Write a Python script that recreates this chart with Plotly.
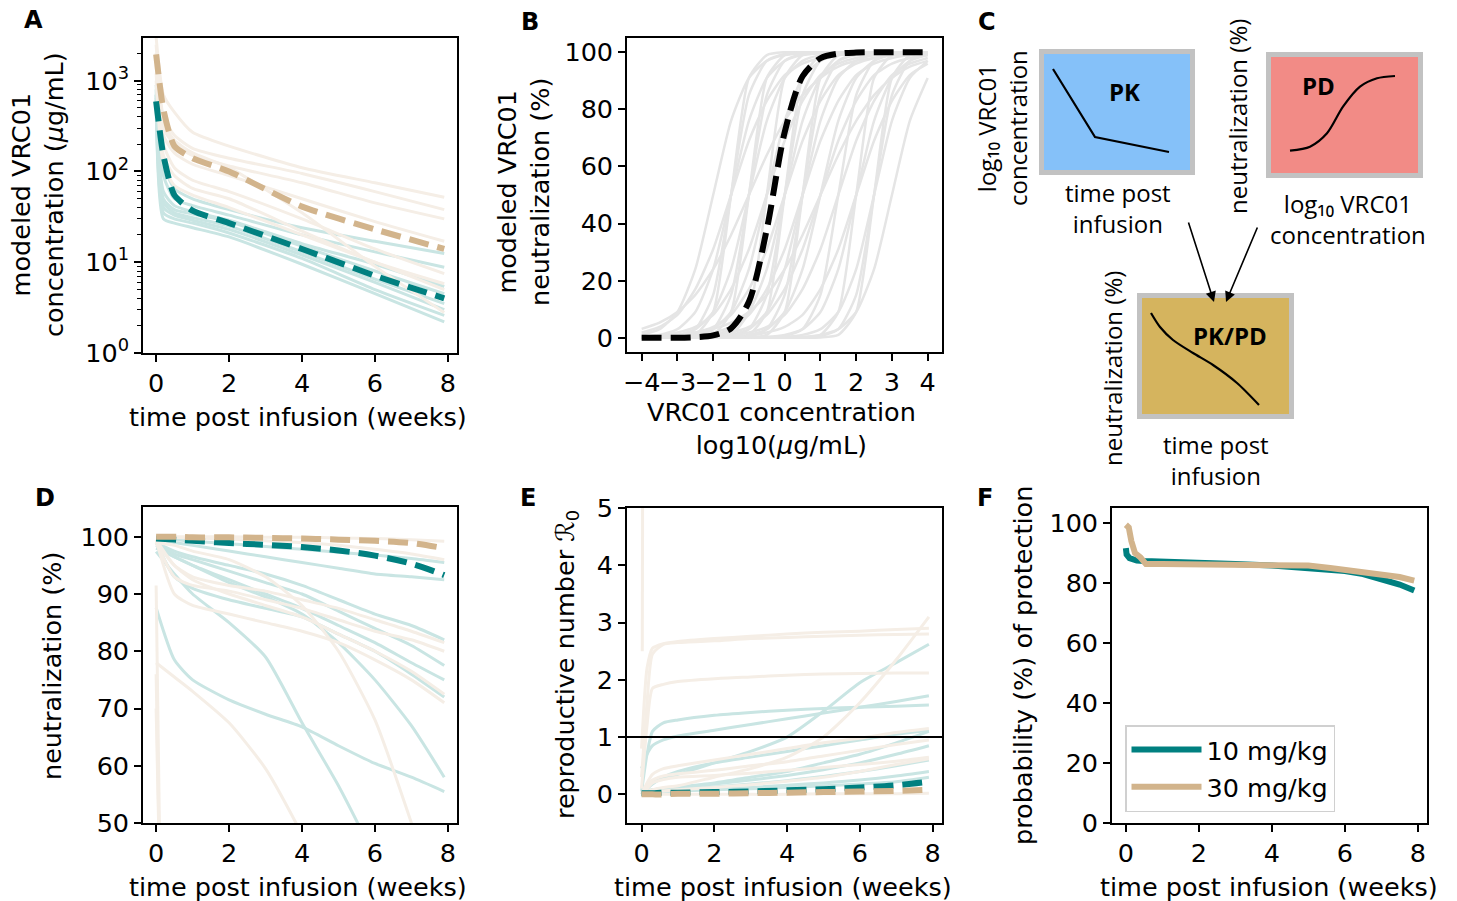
import plotly.graph_objects as go

W, H = 1457, 901


def px(x, y):
    return x / W, 1 - y / H


FONT = "DejaVu Sans"
CFONT = "Open Sans"
FS = 25.5
TEAL = "#008080"
TAN = "#D2B48C"
TEAL_L = "#C9E5E3"
TAN_L = "#F5EEE6"
GREY_L = "#E5E5E5"

# ---------------- Panel A : PK concentration (log scale) ----------------
TA = [0, 0.2, 0.5, 1, 2, 4, 6, 7.9]
A_teal = [
    [900, 120, 65, 50, 38, 24, 17, 12.5],
    [700, 90, 50, 42, 33, 20, 13, 8.8],
    [600, 60, 42, 36, 29, 16, 9.5, 5.4],
    [650, 45, 35, 31, 25, 13, 6.5, 3.5],
    [500, 35, 30, 27, 21, 11, 5, 2.6],
    [700, 30, 27, 24, 19, 9.5, 4.5, 2.2],
    [800, 50, 38, 34, 28, 15, 8, 4.5],
    [600, 40, 33, 29, 23, 12, 6, 3.0],
]
A_tan = [
    [3000, 700, 450, 270, 190, 110, 75, 52],
    [2500, 400, 250, 180, 140, 95, 60, 38],
    [2000, 300, 200, 150, 115, 75, 45, 30],
    [1800, 250, 160, 120, 90, 50, 28, 17],
    [1500, 200, 110, 80, 60, 30, 14, 7.5],
    [1200, 150, 90, 65, 50, 22, 10, 5.8],
    [2000, 350, 220, 160, 110, 35, 9, 2.8],
    [1000, 120, 70, 55, 40, 20, 10, 5],
]
A_teal_mean = [590, 150, 55, 37, 27, 14, 7.1, 4.0]
A_tan_mean = [1950, 480, 190, 140, 100, 41, 23, 14]
A_ticks = [1, 10, 100, 1000]
A_ticktext = ["10<sup>0</sup>", "10<sup>1</sup>", "10<sup>2</sup>", "10<sup>3</sup>"]

# ---------------- Panel B : PD Hill curves ----------------
XB = [-4, -3.5, -3, -2.5, -2, -1.5, -1, -0.5, 0, 0.5, 1, 1.5, 2, 2.5, 3, 3.5, 4]
B_curves = [
    [0, 0, 0.1, 1, 9, 50, 91, 99, 100, 100, 100, 100, 100, 100, 100, 100, 100],
    [0.3, 1, 3, 9, 24, 50, 76, 91, 97, 99, 99.7, 100, 100, 100, 100, 100, 100],
    [3.1, 5.3, 9, 15, 24, 36, 50, 64, 76, 85, 91, 95, 97, 98, 99, 99.4, 99.7],
    [0, 0, 0.1, 0.6, 3, 15, 50, 85, 97, 99.4, 100, 100, 100, 100, 100, 100, 100],
    [0.1, 0.3, 1, 3, 9, 24, 50, 76, 91, 97, 99, 99.7, 100, 100, 100, 100, 100],
    [0, 0.1, 0.3, 1, 3, 9, 24, 50, 76, 91, 97, 99, 99.7, 100, 100, 100, 100],
    [0.4, 0.8, 1.8, 3.8, 8, 17, 31, 50, 69, 83, 92, 96, 98, 99, 99.6, 99.8, 100],
    [0, 0, 0, 0, 0.1, 0.6, 3, 15, 50, 85, 97, 99.4, 100, 100, 100, 100, 100],
    [0.2, 0.4, 0.8, 1.8, 3.8, 8, 17, 31, 50, 69, 83, 92, 96, 98, 99, 99.6, 99.8],
    [0, 0, 0, 0.1, 0.3, 1, 3, 9, 24, 50, 76, 91, 97, 99, 99.7, 100, 100],
    [1, 3, 9, 24, 50, 76, 91, 97, 99, 99.7, 100, 100, 100, 100, 100, 100, 100],
    [0, 0, 0, 0, 0.1, 1, 9, 50, 91, 99, 100, 100, 100, 100, 100, 100, 100],
    [0, 0, 0, 0, 0, 0.1, 1, 9, 50, 91, 99, 100, 100, 100, 100, 100, 100],
    [0.1, 0.2, 0.4, 0.8, 1.8, 3.8, 8, 17, 31, 50, 69, 83, 92, 96, 98, 99, 99.6],
    [0, 0, 0, 0, 0.1, 0.3, 1, 3, 9, 24, 50, 76, 91, 97, 99, 99.7, 100],
    [0.3, 0.6, 1, 1.8, 3.1, 5.3, 9, 15, 24, 36, 50, 64, 76, 85, 91, 95, 97],
    [0, 0, 0.1, 0.2, 0.4, 0.8, 1.8, 3.8, 8, 17, 31, 50, 69, 83, 92, 96, 98],
    [0, 0, 0, 0.1, 0.2, 0.4, 0.8, 1.8, 3.8, 8, 17, 31, 50, 69, 83, 92, 96],
    [0, 0, 0, 0, 0, 0, 0.1, 0.3, 1, 3, 9, 24, 50, 76, 91, 97, 99],
    [0, 0, 0, 0, 0, 0, 0, 0, 0, 0.1, 0.6, 3, 15, 50, 85, 97, 99.4],
    [0, 0, 0, 0, 0, 0, 0, 0.1, 0.3, 1, 3, 9, 24, 50, 76, 91, 97],
    [0, 0, 0, 0, 0, 0, 0, 0, 0.1, 0.3, 1, 3, 9, 24, 50, 76, 91],
    [0, 0, 0, 0, 0, 0, 0, 0, 0, 0, 0.1, 1, 9, 50, 91, 99, 100],
    [0, 0, 0, 0, 0, 0, 0, 0.1, 0.6, 3, 15, 50, 85, 97, 99.4, 100, 100],
    [0, 0, 0.1, 0.3, 1, 3, 9, 24, 50, 76, 91, 97, 99, 99.7, 100, 100, 100],
    [0, 0.1, 0.6, 3, 15, 50, 85, 97, 99.4, 100, 100, 100, 100, 100, 100, 100, 100],
    [0, 0, 0, 0, 0, 0.1, 0.6, 3, 15, 50, 85, 97, 99.4, 100, 100, 100, 100],
    [0, 0.1, 0.2, 0.4, 0.8, 1.8, 3.8, 8, 17, 31, 50, 69, 83, 92, 96, 98, 99],
    [0, 0, 0, 0.1, 1, 9, 50, 91, 99, 100, 100, 100, 100, 100, 100, 100, 100],
    [0, 0, 0, 0, 0, 0, 0, 0, 0, 0.1, 1, 9, 50, 91, 99, 100, 100],
    [1.8, 3.8, 8, 17, 31, 50, 69, 83, 92, 96, 98, 99, 99.6, 99.8, 100, 100, 100],
    [0, 0, 0, 0, 0, 0, 0.1, 1, 9, 50, 91, 99, 100, 100, 100, 100, 100],
]
B_mean = [0, 0, 0, 0.2, 0.8, 3.3, 12.6, 38, 72, 91.6, 97.9, 99.5, 99.9, 100, 100, 100, 100]

# ---------------- Panel D : neutralization over time ----------------
TD = [0, 0.5, 1, 2, 3, 4, 5, 6, 7, 7.9]
D_teal = [
    [99.5, 99, 98.5, 97.5, 96.5, 95.5, 94.5, 93.5, 93, 92.5],
    [99.8, 99.5, 99.2, 98.8, 98.3, 97.8, 97.3, 96.8, 96.2, 95.5],
    [99, 97.5, 96.5, 95, 93.5, 91.5, 89, 86.5, 84.5, 82],
    [99, 97, 96, 94, 92, 90, 87, 84, 81, 77.5],
    [98.5, 96.5, 95, 92.5, 90, 87.5, 84.5, 81.5, 78, 75],
    [99, 93, 91, 89, 87.5, 86, 83, 80, 76, 72],
    [97.4, 93.5, 90, 85, 79, 67.5, 56.5, 44, 31, 18],
    [98, 96.5, 95, 92, 89.5, 86.5, 81.5, 75, 67, 58],
    [87.6, 78.5, 75, 71.5, 69, 66.8, 63.5, 60.4, 58, 55.5],
]
D_tan = [
    [78, 75.5, 73, 67.5, 59.5, 48, 35, 22, 10, 0],
    [99.4, 90, 88, 86.5, 85, 83.5, 81.5, 78.5, 75, 71],
    [99, 93, 91.5, 90.5, 89, 87.5, 85.5, 83.5, 82, 80],
    [99.5, 95, 93, 91.5, 90.5, 89, 87.5, 85.5, 83.5, 81.5],
    [99, 98.5, 97.5, 96, 93, 88, 80, 68, 50, 32],
    [100, 100, 100, 100, 99.9, 99.9, 99.8, 99.7, 99.5, 99.2],
    [100, 99.9, 99.8, 99.6, 99.3, 99, 98.5, 97.8, 97, 96],
    [99, 95, 92.5, 90, 88, 86, 83, 80, 76.5, 72.5],
]
TD_drop = [0, 0.1]
D_tan_drop = [
    [91.5, 45],
    [76, 40],
    [70, 40],
]
D_teal_mean = [99.7, 99.5, 99.3, 98.9, 98.6, 98.2, 97.6, 96.7, 95.3, 93.3]
D_tan_mean = [100, 100, 99.9, 99.9, 99.8, 99.7, 99.5, 99.3, 98.9, 98.0]

# ---------------- Panel E : reproductive number ----------------
TE = [0, 0.15, 0.3, 0.6, 1, 2, 3, 4, 5, 6, 7, 7.9]
E_tan = [
    [0.8, 2.2, 2.55, 2.63, 2.67, 2.72, 2.76, 2.8, 2.83, 2.85, 2.88, 2.9],
    [0.3, 1.6, 2.45, 2.62, 2.65, 2.68, 2.72, 2.74, 2.76, 2.78, 2.79, 2.8],
    [0.1, 1.2, 1.85, 1.92, 1.97, 2.02, 2.05, 2.08, 2.1, 2.11, 2.12, 2.12],
    [0.0, 0.05, 0.08, 0.12, 0.15, 0.3, 0.45, 0.65, 1.0, 1.6, 2.35, 3.1],
    [0.0, 0.2, 0.35, 0.45, 0.5, 0.6, 0.7, 0.8, 0.9, 0.98, 1.08, 1.15],
    [0.0, 0.15, 0.25, 0.32, 0.36, 0.42, 0.5, 0.57, 0.67, 0.77, 0.87, 0.95],
    [0.0, 0.1, 0.2, 0.26, 0.3, 0.33, 0.37, 0.42, 0.47, 0.52, 0.58, 0.65],
    [0.0, 0.02, 0.04, 0.06, 0.08, 0.12, 0.17, 0.23, 0.3, 0.4, 0.52, 0.62],
    [0.0, 0, 0, 0, 0, 0, 0, 0, 0.01, 0.01, 0.01, 0.02],
]
TE_spike = [0.02, 0.03]
E_spike = [2.5, 5.3]
E_teal = [
    [0.45, 0.7, 0.85, 0.95, 1.02, 1.12, 1.22, 1.32, 1.42, 1.52, 1.62, 1.72],
    [0.05, 0.7, 1.1, 1.25, 1.3, 1.38, 1.43, 1.47, 1.5, 1.52, 1.54, 1.56],
    [0.0, 0.1, 0.2, 0.28, 0.35, 0.55, 0.75, 1.0, 1.45, 1.95, 2.3, 2.62],
    [0.0, 0.05, 0.08, 0.1, 0.13, 0.2, 0.3, 0.4, 0.55, 0.7, 0.9, 1.1],
    [0.0, 0.05, 0.08, 0.1, 0.12, 0.18, 0.25, 0.33, 0.43, 0.55, 0.7, 0.85],
    [0.0, 0.03, 0.05, 0.07, 0.09, 0.13, 0.18, 0.24, 0.31, 0.4, 0.5, 0.6],
    [0.0, 0.02, 0.03, 0.05, 0.06, 0.09, 0.12, 0.16, 0.2, 0.25, 0.32, 0.4],
    [0.02, 0.03, 0.04, 0.05, 0.06, 0.08, 0.1, 0.12, 0.15, 0.18, 0.22, 0.3],
    [0.0, 0.1, 0.18, 0.3, 0.4, 0.55, 0.65, 0.75, 0.85, 0.95, 1.05, 1.12],
]
E_teal_mean = [0.02, 0.02, 0.02, 0.03, 0.03, 0.04, 0.05, 0.07, 0.09, 0.12, 0.16, 0.22]
E_tan_mean = [0.0, 0.0, 0.0, 0.0, 0.01, 0.01, 0.02, 0.03, 0.04, 0.05, 0.06, 0.08]
E_threshold = 1

# ---------------- Panel F : probability of protection ----------------
TF_10 = [0, 0.02, 0.1, 0.3, 0.5, 1, 2, 3, 4, 5, 6, 6.5, 7, 7.5, 7.9]
F_10 = [91.6, 89.5, 88.3, 87.5, 87.3, 87.2, 86.8, 86.3, 85.8, 85, 84, 83, 81.5, 79.5, 77.5]
TF_30 = [0, 0.08, 0.15, 0.25, 0.4, 0.55, 1, 2, 3, 4, 5, 5.6, 6, 6.8, 7.5, 7.9]
F_30 = [99.4, 98.5, 94, 90, 88.5, 86.3, 86.3, 86.3, 86.3, 86.1, 85.8, 85, 84.3, 83.3, 82, 80.8]
F_names = ["10 mg/kg", "30 mg/kg"]

# ---------------- Panel C : schematic (pixel-space illustration) ----------------
C_pk_curve_x = [1053, 1095, 1169]
C_pk_curve_y = [69, 137, 152]
C_pd_curve_x = [1290, 1310, 1327, 1343, 1360, 1377, 1395]
C_pd_curve_y = [150.7, 146.7, 133.3, 106.7, 86.7, 78.3, 76]
C_pkpd_curve_x = [1151, 1160, 1173, 1193, 1213, 1237, 1259]
C_pkpd_curve_y = [313, 327, 340, 353, 365, 383, 405]

fig = go.Figure()

thin = 3


def add_lines(xs, ys_list, color, xa, ya, width=thin, shape="spline"):
    for ys in ys_list:
        fig.add_trace(go.Scatter(x=xs, y=ys, mode="lines", xaxis=xa, yaxis=ya,
                                 line=dict(color=color, width=width, shape=shape, smoothing=0.6),
                                 showlegend=False, hoverinfo="skip"))


DASH = "20px,9px"

# A
add_lines(TA, A_teal, TEAL_L, "x", "y")
add_lines(TA, A_tan, TAN_L, "x", "y")
fig.add_trace(go.Scatter(x=TA, y=A_teal_mean, mode="lines", xaxis="x", yaxis="y",
                         line=dict(color=TEAL, width=6, dash=DASH, shape="spline", smoothing=0.6),
                         showlegend=False))
fig.add_trace(go.Scatter(x=TA, y=A_tan_mean, mode="lines", xaxis="x", yaxis="y",
                         line=dict(color=TAN, width=6, dash=DASH, shape="spline", smoothing=0.6),
                         showlegend=False))

# B
add_lines(XB, B_curves, GREY_L, "x2", "y2", width=2.5)
fig.add_trace(go.Scatter(x=XB, y=B_mean, mode="lines", xaxis="x2", yaxis="y2",
                         line=dict(color="black", width=6, dash=DASH, shape="spline", smoothing=0.8),
                         showlegend=False))

# D
add_lines(TD, D_teal, TEAL_L, "x3", "y3")
add_lines(TD, D_tan, TAN_L, "x3", "y3")
add_lines(TD_drop, D_tan_drop, TAN_L, "x3", "y3", shape="linear")
fig.add_trace(go.Scatter(x=TD, y=D_teal_mean, mode="lines", xaxis="x3", yaxis="y3",
                         line=dict(color=TEAL, width=6, dash=DASH, shape="spline"), showlegend=False))
fig.add_trace(go.Scatter(x=TD, y=D_tan_mean, mode="lines", xaxis="x3", yaxis="y3",
                         line=dict(color=TAN, width=6, dash=DASH, shape="spline"), showlegend=False))

# E
add_lines(TE, E_teal, TEAL_L, "x4", "y4")
add_lines(TE, E_tan, TAN_L, "x4", "y4")
add_lines(TE_spike, [E_spike], TAN_L, "x4", "y4", shape="linear")
fig.add_trace(go.Scatter(x=TE, y=E_teal_mean, mode="lines", xaxis="x4", yaxis="y4",
                         line=dict(color=TEAL, width=6, dash=DASH, shape="spline"), showlegend=False))
fig.add_trace(go.Scatter(x=TE, y=E_tan_mean, mode="lines", xaxis="x4", yaxis="y4",
                         line=dict(color=TAN, width=6, dash=DASH, shape="spline"), showlegend=False))

# F
fig.add_trace(go.Scatter(x=TF_10, y=F_10, mode="lines", xaxis="x5", yaxis="y5", name=F_names[0],
                         legendgroup="a", line=dict(color=TEAL, width=6)))
fig.add_trace(go.Scatter(x=TF_30, y=F_30, mode="lines", xaxis="x5", yaxis="y5", name=F_names[1],
                         legendgroup="b", line=dict(color=TAN, width=6)))


def ax_style(**kw):
    d = dict(showline=True, mirror=True, linecolor="black", linewidth=1.6,
             ticks="outside", ticklen=7, tickwidth=1.5, tickcolor="black",
             showgrid=False, zeroline=False, automargin=False, tickangle=0,
             tickfont=dict(family=FONT, size=FS, color="black"))
    d.update(kw)
    return d


def dom_x(x0, x1):
    return [x0 / W, x1 / W]


def dom_y(y_top, y_bot):
    return [1 - y_bot / H, 1 - y_top / H]


shapes = []
annotations = []

# C boxes: (outer x0, x1, y0, y1, fill)
C_boxes = [
    (1039, 1195, 49, 175, "#85C1F9"),
    (1266, 1423, 52, 178, "#F28B86"),
    (1137, 1294, 293, 419, "#D5B45E"),
]
for x0, x1, y0, y1, col in C_boxes:
    shapes.append(dict(type="rect", xref="x6", yref="y6", x0=x0, x1=x1, y0=y0, y1=y1,
                       fillcolor="#C2C2C2", line=dict(width=0), layer="below"))
    shapes.append(dict(type="rect", xref="x6", yref="y6", x0=x0 + 5, x1=x1 - 5, y0=y0 + 5, y1=y1 - 5,
                       fillcolor=col, line=dict(width=0), layer="below"))

for cx, cy in [(C_pk_curve_x, C_pk_curve_y), (C_pd_curve_x, C_pd_curve_y), (C_pkpd_curve_x, C_pkpd_curve_y)]:
    fig.add_trace(go.Scatter(x=cx, y=cy, mode="lines", xaxis="x6", yaxis="y6",
                             line=dict(color="black", width=2.2, shape="spline", smoothing=0.8 if len(cx) > 3 else 0),
                             showlegend=False, hoverinfo="skip"))

# horizontal R0 = 1 line
shapes.append(dict(type="line", xref="x4 domain", yref="y4", x0=0, x1=1, y0=E_threshold, y1=E_threshold,
                   line=dict(color="black", width=2)))


def ann(x, y, text, size=FS, angle=0, family=FONT, bold=False, xanchor="center", yanchor="middle"):
    xx, yy = px(x, y)
    annotations.append(dict(x=xx, y=yy, xref="paper", yref="paper", text=f"<b>{text}</b>" if bold else text,
                            showarrow=False, textangle=angle, xanchor=xanchor, yanchor=yanchor,
                            font=dict(family=family, size=size, color="black")))


# panel letters
for lx, ly, t in [(33, 20, "A"), (530, 22, "B"), (987, 22, "C"), (45, 498, "D"), (528, 498, "E"), (985, 498, "F")]:
    ann(lx, ly, t, size=24, bold=True)

# axis titles
ann(37, 195, "modeled VRC01<br>concentration (<i>μ</i>g/mL)", angle=-90)
ann(298, 417, "time post infusion (weeks)")
ann(523, 192, "modeled VRC01<br>neutralization (%)", angle=-90)
ann(781, 429, "VRC01 concentration<br>log10(<i>μ</i>g/mL)")
ann(52, 666, "neutralization (%)", angle=-90)
ann(298, 887, "time post infusion (weeks)")
ann(566, 665, "reproductive number ℛ<sub>0</sub>", angle=-90)
ann(783, 887, "time post infusion (weeks)")
ann(1023, 666, "probability (%) of protection", angle=-90)
ann(1269, 887, "time post infusion (weeks)")

# C texts
ann(1124, 91, "PK", size=24, family=CFONT, bold=True)
ann(1318, 86, "PD", size=24, family=CFONT, bold=True)
ann(1230, 335, "PK/PD", size=24, family=CFONT, bold=True)
ann(1118, 208, "time post<br>infusion", size=24, family=CFONT)
ann(1002, 128, "log₁₀ VRC01<br>concentration", size=24, family=CFONT, angle=-90)
ann(1238, 117, "neutralization (%)", size=24, family=CFONT, angle=-90)
ann(1348, 219, "log₁₀ VRC01<br>concentration", size=24, family=CFONT)
ann(1112, 369, "neutralization (%)", size=24, family=CFONT, angle=-90)
ann(1216, 460, "time post<br>infusion", size=24, family=CFONT)

# arrows in C
for (tx, ty, hx, hy) in [(1188, 221, 1214, 302), (1258, 226, 1226, 302)]:
    annotations.append(dict(x=hx, y=hy, ax=tx, ay=ty, xref="x6", yref="y6", axref="x6", ayref="y6",
                            showarrow=True, arrowhead=2, arrowsize=1.3, arrowwidth=1.6, arrowcolor="black",
                            text=""))

fig.update_layout(
    width=W, height=H, margin=dict(l=0, r=0, t=0, b=0, pad=0), autosize=False,
    paper_bgcolor="white", plot_bgcolor="white",
    font=dict(family=FONT, size=FS, color="black"),
    xaxis=ax_style(domain=dom_x(143, 457), range=[-0.36, 8.25], tickvals=[0, 2, 4, 6, 8], anchor="y"),
    yaxis=ax_style(domain=dom_y(38, 353), type="log", range=[0, 3.47], tickvals=A_ticks, ticktext=A_ticktext,
                   anchor="x",
                   minor=dict(ticks="outside", ticklen=4, tickwidth=1, tickcolor="black",
                              tickvals=[2, 3, 4, 5, 6, 7, 8, 9, 20, 30, 40, 50, 60, 70, 80, 90,
                                        200, 300, 400, 500, 600, 700, 800, 900, 2000])),
    xaxis2=ax_style(domain=dom_x(627, 942), range=[-4.41, 4.4], tickvals=[-4, -3, -2, -1, 0, 1, 2, 3, 4], anchor="y2"),
    yaxis2=ax_style(domain=dom_y(38, 352), range=[-5, 105], tickvals=[0, 20, 40, 60, 80, 100], anchor="x2"),
    xaxis3=ax_style(domain=dom_x(143, 457), range=[-0.36, 8.25], tickvals=[0, 2, 4, 6, 8], anchor="y3"),
    yaxis3=ax_style(domain=dom_y(507, 823), range=[50, 105.2], tickvals=[50, 60, 70, 80, 90, 100], anchor="x3"),
    xaxis4=ax_style(domain=dom_x(627, 942), range=[-0.4, 8.26], tickvals=[0, 2, 4, 6, 8], anchor="y4"),
    yaxis4=ax_style(domain=dom_y(508, 823), range=[-0.5, 5], tickvals=[0, 1, 2, 3, 4, 5], anchor="x4"),
    xaxis5=ax_style(domain=dom_x(1112, 1427), range=[-0.38, 8.25], tickvals=[0, 2, 4, 6, 8], anchor="y5"),
    yaxis5=ax_style(domain=dom_y(508, 823), range=[0, 105], tickvals=[0, 20, 40, 60, 80, 100], anchor="x5"),
    xaxis6=dict(domain=dom_x(960, 1457), range=[960, 1457], visible=False, anchor="y6", fixedrange=True,
                automargin=False),
    yaxis6=dict(domain=dom_y(0, 490), range=[490, 0], visible=False, anchor="x6", fixedrange=True,
                automargin=False),
    shapes=shapes,
    annotations=annotations,
    showlegend=True,
    legend=dict(x=1125 / W, y=1 - 725 / H, xanchor="left", yanchor="top",
                bgcolor="white", bordercolor="#D0D0D0", borderwidth=1.5,
                font=dict(family=FONT, size=FS, color="black"), tracegroupgap=1,
                itemwidth=70),
)

fig.write_html("out.html", config={"displayModeBar": False},
               post_script="document.body.style.margin='0px';")
